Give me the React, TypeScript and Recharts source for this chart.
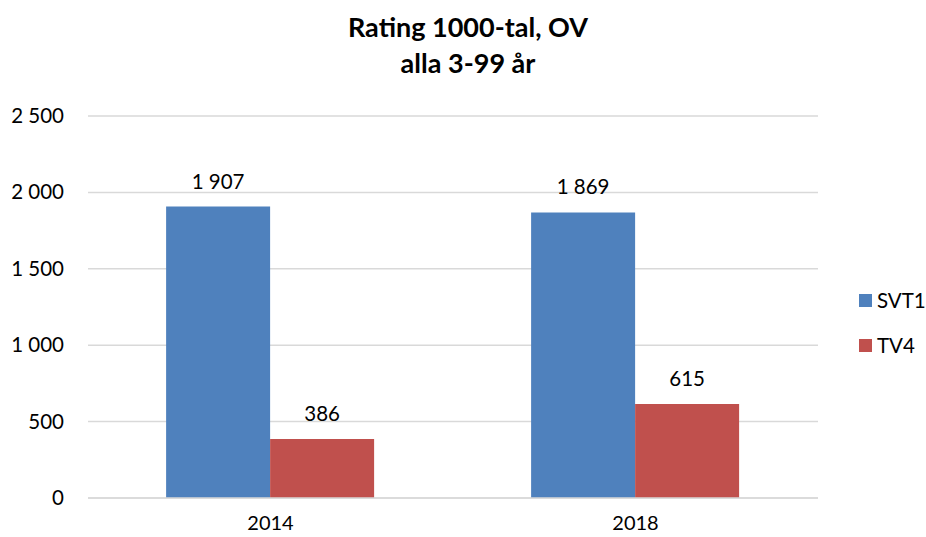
import React from "react";
import { BarChart, Bar, XAxis, YAxis, CartesianGrid, LabelList } from "recharts";

const years = ["2014", "2018"];
const svt1 = [1907, 1869];
const tv4 = [386, 615];
const yTicks = [0, 500, 1000, 1500, 2000, 2500];

const FONT = "Lato, 'Open Sans', sans-serif";
const BLUE = "#4f81bd";
const RED = "#c0504d";

const data = years.map((y, i) => ({ year: y, SVT1: svt1[i], TV4: tv4[i] }));

const fmt = (v: number) => String(v).replace(/\B(?=(\d{3})+(?!\d))/g, " ");

function YTick(props: any) {
  const { y, payload } = props;
  return (
    <text x={64} y={y} dy={7} textAnchor="end" fontSize={20.5} fill="#000" fontFamily={FONT}>
      {fmt(payload.value)}
    </text>
  );
}

function XTick(props: any) {
  const { x, y, payload } = props;
  return (
    <text x={x} y={y} dy={24} textAnchor="middle" fontSize={20} fill="#000" fontFamily={FONT}>
      {payload.value}
    </text>
  );
}

export default function App() {
  return (
    <div style={{ position: "absolute", left: 0, top: 0, width: 926, height: 537, background: "#fff", fontFamily: FONT }}>
      <div
        style={{
          position: "absolute",
          left: 0,
          width: 936,
          top: 9,
          textAlign: "center",
          fontWeight: 700,
          fontSize: 27,
          lineHeight: "36px",
          color: "#000",
        }}
      >
        <div>Rating 1000-tal, OV</div>
        <div>alla 3-99 år</div>
      </div>
      <BarChart
        width={926}
        height={537}
        data={data}
        margin={{ top: 116, right: 108, bottom: 0, left: 0 }}
        barCategoryGap="21.4%"
        barGap={0}
      >
        <CartesianGrid vertical={false} stroke="#d9d9d9" strokeWidth={1.5} />
        <XAxis
          dataKey="year"
          axisLine={{ stroke: "#d9d9d9", strokeWidth: 1.5 }}
          tickLine={false}
          tick={<XTick />}
          height={39}
        />
        <YAxis
          width={88}
          domain={[0, 2500]}
          ticks={yTicks}
          axisLine={false}
          tickLine={false}
          tick={<YTick />}
        />
        <Bar dataKey="SVT1" fill={BLUE} isAnimationActive={false}>
          <LabelList dataKey="SVT1" position="top" offset={18} formatter={(v: any) => fmt(v)} fill="#000" fontSize={20.5} fontFamily={FONT} />
        </Bar>
        <Bar dataKey="TV4" fill={RED} isAnimationActive={false}>
          <LabelList dataKey="TV4" position="top" offset={18} formatter={(v: any) => fmt(v)} fill="#000" fontSize={20.5} fontFamily={FONT} />
        </Bar>
      </BarChart>
      <div style={{ position: "absolute", left: 859, top: 288, fontSize: 20.5, color: "#000" }}>
        {[
          { name: "SVT1", color: BLUE },
          { name: "TV4", color: RED },
        ].map((s, i) => (
          <div key={s.name} style={{ display: "flex", alignItems: "center", height: 24, marginBottom: i === 0 ? 21 : 0 }}>
            <span style={{ width: 13, height: 13, background: s.color, display: "inline-block", marginRight: 5 }} />
            <span>{s.name}</span>
          </div>
        ))}
      </div>
    </div>
  );
}
